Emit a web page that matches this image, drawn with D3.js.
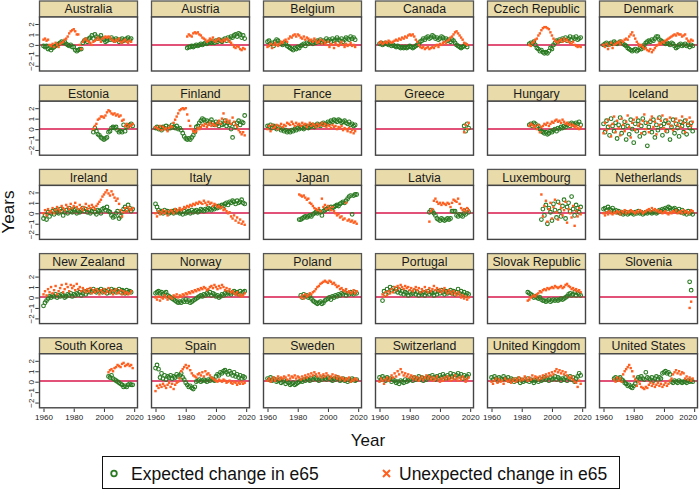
<!DOCTYPE html>
<html><head><meta charset="utf-8">
<script src="https://cdn.jsdelivr.net/npm/d3@7"></script>
<style>body{margin:0;background:#fff}svg{display:block}text{font-family:"Liberation Sans",Arial,sans-serif}</style>
</head><body><svg id="c" width="700" height="491"></svg>
<script>
const countries = ["Australia","Austria","Belgium","Canada","Czech Republic","Denmark",
"Estonia","Finland","France","Greece","Hungary","Iceland",
"Ireland","Italy","Japan","Latvia","Luxembourg","Netherlands",
"New Zealand","Norway","Poland","Portugal","Slovak Republic","Slovenia",
"South Korea","Spain","Sweden","Switzerland","United Kingdom","United States"];
const startYears = [1960,1981,1960,1960,1985,1960, 1993,1960,1960,2016,1985,1960, 1960,1960,1981,1993,1993,1960, 1960,1960,1982,1962,1984,2017, 2003,1960,1960,1960,1960,1967];
const expected = [
[-0.1,-0.2,-0.1,-0.4,-0.3,-0.5,-0.3,-0.2,-0.1,0.0,0.1,0.2,0.3,0.2,0.3,0.1,0.0,-0.1,0.0,-0.2,-0.2,-0.5,-0.6,-0.5,-0.4,-0.4,0.2,0.4,0.5,0.3,0.6,0.7,0.9,0.6,1.0,0.8,0.6,0.7,0.9,0.6,0.5,0.3,0.4,0.6,0.5,0.7,0.5,0.4,0.6,0.5,0.3,0.5,0.6,0.4,0.5,0.6,0.7,0.5,0.6],
[-0.3,-0.2,-0.2,-0.1,-0.2,-0.1,0.0,-0.1,0.0,0.1,0.0,0.1,0.2,0.1,0.2,0.3,0.2,0.3,0.2,0.4,0.3,0.5,0.4,0.3,0.5,0.6,0.4,0.7,0.6,0.8,0.7,0.9,1.0,0.8,1.1,1.0,0.7,0.9,0.6],
[0.3,0.4,0.1,0.2,-0.1,0.3,0.5,0.4,0.2,0.1,0.0,0.2,0.1,-0.1,-0.2,-0.3,-0.4,-0.5,-0.3,-0.4,-0.2,-0.3,-0.1,0.0,0.1,-0.1,0.2,0.1,0.3,0.2,0.1,0.3,0.2,0.4,0.3,0.5,0.2,0.4,0.3,0.6,0.4,0.5,0.3,0.6,0.4,0.5,0.7,0.5,0.4,0.6,0.3,0.5,0.7,0.6,0.5,0.8,0.6,0.7,0.5],
[0.1,0.2,0.0,0.1,0.2,0.1,0.0,0.1,-0.1,0.0,-0.1,-0.2,-0.1,-0.2,-0.3,-0.2,-0.3,-0.2,-0.3,-0.2,-0.1,-0.2,-0.3,-0.2,-0.1,0.0,0.1,0.3,0.4,0.6,0.5,0.7,0.8,0.6,0.7,0.9,0.8,0.6,0.7,0.5,0.6,0.8,0.7,0.5,0.6,0.4,0.5,0.3,0.5,0.4,0.2,0.0,-0.1,-0.2,-0.3,-0.2,-0.1,0.0,-0.2],
[0.1,0.2,0.1,0.3,0.0,-0.3,-0.4,-0.6,-0.5,-0.7,-0.8,-0.7,-0.8,-0.6,-0.3,-0.4,0.0,0.2,0.4,0.3,0.5,0.4,0.6,0.5,0.7,0.4,0.6,0.8,0.5,0.7,0.6,0.8,0.5,0.6,0.7],
[0.0,0.1,0.2,0.0,0.1,0.2,0.1,0.3,0.2,0.1,0.2,0.3,0.2,0.1,0.0,-0.1,-0.3,-0.4,-0.5,-0.6,-0.5,-0.4,-0.6,-0.5,-0.3,-0.4,-0.2,0.0,0.2,0.3,0.4,0.3,0.5,0.4,0.6,0.8,0.8,0.5,0.4,0.3,0.2,0.1,0.2,0.1,0.0,0.2,0.1,-0.1,-0.3,-0.2,0.0,0.1,-0.1,0.0,0.1,-0.1,0.0,-0.2,0.0,-0.1],
[-0.3,0.1,-0.2,-0.5,-0.6,-0.8,-0.9,-1.0,-0.9,-0.8,-0.3,-0.2,0.1,0.2,0.1,0.2,-0.1,-0.3,-0.2,-0.3,0.4,-0.2,0.2,0.3,0.4,0.5,0.3],
[0.1,0.2,0.0,0.1,-0.1,0.2,0.1,0.3,0.0,0.2,0.1,0.4,0.2,0.1,0.3,0.0,0.1,-0.1,-0.4,-0.7,-0.9,-1.0,-0.9,-1.0,-0.8,-0.6,-0.3,0.2,0.3,0.6,0.8,1.0,0.9,0.7,0.8,0.5,0.7,0.9,0.6,0.4,0.7,0.5,0.3,0.6,0.4,0.5,0.8,0.3,0.6,0.4,0.0,-0.8,0.5,0.2,0.6,0.8,0.4,0.7,0.6,1.3],
[0.3,0.2,0.4,0.1,0.3,0.2,0.0,0.2,0.1,-0.1,0.0,-0.2,-0.1,-0.3,-0.2,-0.3,-0.1,-0.2,0.0,-0.1,0.1,0.0,0.2,0.1,0.0,0.2,0.3,0.1,0.2,0.3,0.4,0.2,0.3,0.5,0.4,0.3,0.5,0.6,0.4,0.5,0.7,0.6,0.8,0.7,0.9,0.8,0.7,0.9,0.8,0.6,0.7,0.8,0.6,0.5,0.7,0.4,0.5,0.3,0.4],
[0.3,-0.2,0.5,0.1],
[0.4,0.5,0.3,0.6,0.5,0.2,0.3,0.0,-0.2,-0.3,-0.4,-0.3,-0.5,-0.4,-0.2,-0.3,-0.1,0.0,-0.2,0.1,0.0,0.2,0.1,0.3,0.2,0.4,0.5,0.3,0.6,0.5,0.4,0.6,0.5,0.7,0.4],
[0.5,-0.3,0.8,0.2,-0.6,1.0,0.3,-0.2,0.6,-0.9,0.4,1.1,-0.4,0.2,0.7,-1.0,0.3,-0.5,0.9,0.0,-1.3,0.5,-0.2,0.8,-0.7,0.3,1.0,-0.4,0.6,-1.6,0.2,0.7,-0.3,0.9,-0.8,0.4,-0.1,1.1,0.3,-0.6,0.5,0.8,-0.2,0.6,-1.0,0.2,0.9,-0.4,0.5,0.1,-0.7,0.7,0.3,-0.3,0.8,-0.5,0.4,0.1,0.6,-0.2],
[-0.5,-0.2,-0.6,0.1,-0.3,0.0,0.2,-0.1,0.3,0.1,0.0,0.4,0.2,-0.2,0.1,0.3,0.0,0.5,0.2,0.1,0.3,0.4,0.0,0.2,0.1,0.3,0.5,0.2,0.4,0.1,0.3,0.0,0.2,0.4,0.1,-0.1,0.3,0.2,0.0,0.4,0.5,0.3,0.6,0.2,0.1,-0.2,-0.4,-0.3,0.0,0.2,-0.5,-0.3,0.1,0.4,0.6,0.3,0.8,0.5,0.2,0.4],
[0.9,0.6,0.3,0.1,0.2,0.0,0.3,0.1,0.2,0.0,0.1,0.2,0.0,0.3,0.1,0.2,0.0,0.1,-0.1,0.2,0.0,0.1,0.2,0.0,0.3,0.1,0.2,0.3,0.1,0.2,0.4,0.3,0.2,0.4,0.3,0.5,0.4,0.3,0.5,0.4,0.6,0.5,0.7,0.6,0.8,0.7,0.9,1.0,0.8,1.1,1.0,1.2,1.1,0.9,1.2,1.0,1.1,1.3,1.0,0.9],
[-0.6,-0.6,-0.5,-0.4,-0.3,-0.4,-0.3,-0.2,-0.3,-0.1,0.0,0.1,0.0,0.2,0.1,-0.2,0.2,0.3,0.4,0.5,0.4,0.6,0.5,0.6,0.7,0.8,0.7,0.9,1.0,1.1,1.0,1.2,1.4,1.6,1.7,-0.1,1.7,1.8,1.8],
[0.1,0.3,0.2,0.0,-0.2,-0.5,-0.6,-0.7,-0.5,-0.6,-0.7,-0.6,-0.5,-0.6,-0.5,0.2,0.2,0.2,-0.2,-0.3,-0.1,-0.2,-0.3,0.0,-0.1,0.3,0.1],
[-0.6,0.4,-0.2,0.8,-1.0,0.5,0.1,-0.7,0.9,0.3,-0.4,1.1,0.2,-0.3,0.7,1.3,-0.5,0.6,1.0,0.2,1.6,0.4,-0.2,0.8,0.5,0.1,0.6],
[0.4,0.5,0.3,0.6,0.4,0.3,0.5,0.2,0.3,0.1,0.2,0.0,0.1,-0.1,0.0,0.1,-0.1,0.0,0.1,0.0,-0.1,0.1,0.0,0.2,0.0,0.1,-0.1,0.0,0.1,0.0,0.2,0.1,0.0,0.1,0.2,0.0,0.1,0.3,0.2,0.4,0.3,0.5,0.4,0.6,0.5,0.3,0.4,0.5,0.3,0.2,0.4,0.1,0.3,0.0,0.1,-0.1,0.2,0.0,0.1,-0.1],
[-0.8,-0.5,-0.3,-0.1,0.1,0.0,0.2,0.1,0.3,0.0,0.2,0.1,0.3,0.2,0.0,0.1,0.3,0.2,0.4,0.1,0.3,0.2,0.4,0.3,0.5,0.2,0.4,0.6,0.3,0.5,0.7,0.5,0.6,0.8,0.6,0.5,0.7,0.6,0.8,0.5,0.7,0.6,0.4,0.7,0.5,0.8,0.6,0.7,0.5,0.6,0.8,0.5,0.7,0.6,0.4,0.7,0.5,0.6,0.5],
[0.4,0.5,0.6,0.4,0.5,0.3,0.4,0.5,0.2,0.1,0.0,-0.1,-0.2,-0.3,-0.4,-0.5,-0.4,-0.5,-0.3,-0.4,-0.2,-0.4,-0.3,-0.5,-0.4,-0.3,-0.2,-0.1,0.0,0.1,0.2,0.1,0.3,0.2,0.4,0.3,0.5,0.2,0.4,0.3,0.1,0.2,0.0,0.1,0.3,0.2,0.4,0.3,0.5,0.4,0.3,0.5,0.6,0.4,0.5,0.3,0.6,0.4,0.5,0.6],
[0.2,0.0,0.3,0.1,0.2,0.0,0.1,-0.1,-0.3,-0.4,-0.5,-0.6,-0.5,-0.4,-0.6,-0.5,-0.3,-0.2,-0.1,0.0,-0.2,0.1,0.0,0.2,0.1,0.3,0.2,0.4,0.3,0.5,0.2,0.4,0.3,0.5,0.4,0.3,0.5,0.4],
[-0.3,0.6,0.3,0.8,0.5,1.0,0.7,0.9,0.6,0.8,0.5,0.7,0.4,0.6,0.3,0.5,0.4,0.2,0.5,0.3,0.4,0.6,0.3,0.5,0.2,0.4,0.3,0.5,0.2,0.4,0.6,0.3,0.5,0.4,0.2,0.5,0.3,0.6,0.4,0.7,0.5,0.3,0.6,0.4,0.5,0.7,0.4,0.6,0.3,0.5,0.8,0.4,0.6,0.3,0.5,0.2,0.4,0.3],
[0.5,0.4,0.3,0.2,0.0,0.1,0.0,-0.1,0.0,-0.2,-0.3,-0.3,-0.4,-0.3,-0.2,-0.4,-0.3,-0.2,-0.3,-0.2,-0.3,-0.2,-0.1,-0.2,-0.1,0.0,0.1,0.3,0.4,0.2,0.3,0.5,0.2,0.4,0.3,0.2],
[1.5,0.7],
[0.5,0.4,0.6,0.3,0.2,0.1,0.0,-0.1,-0.2,-0.3,-0.5,-0.4,-0.5,-0.3,-0.2,-0.3,-0.3],
[1.3,1.6,1.2,0.4,0.8,0.3,0.6,0.2,0.5,0.4,0.6,0.3,0.5,0.4,0.7,0.5,0.6,0.8,0.4,0.2,-0.1,-0.3,-0.5,-0.4,-0.6,-0.7,-0.5,0.0,0.1,0.2,0.0,0.1,0.2,0.1,0.0,0.2,0.1,0.3,0.2,0.1,0.5,0.7,0.6,0.9,0.8,1.0,1.1,0.9,0.7,1.0,0.8,0.6,0.9,0.5,0.7,0.4,0.6,0.3,0.5,0.4],
[0.3,0.2,0.4,0.1,0.3,0.2,0.0,0.1,0.2,-0.1,0.0,0.1,-0.2,0.0,-0.1,-0.3,-0.2,-0.1,-0.3,-0.2,-0.1,0.0,0.1,0.0,0.2,0.1,0.3,0.2,0.1,0.3,0.2,0.4,0.3,0.2,0.1,0.3,0.2,0.4,0.3,0.2,0.4,0.3,0.2,0.1,0.3,0.2,0.4,0.3,0.1,0.2,0.3,0.1,0.2,0.0,0.2,0.1,0.3,0.2,0.1,0.2],
[0.4,0.2,0.5,0.3,0.1,0.4,0.2,0.3,0.0,0.2,0.1,-0.1,0.0,-0.2,0.1,0.0,-0.1,0.2,0.0,0.1,0.2,0.3,0.1,0.4,0.2,0.3,0.5,0.2,0.4,0.1,0.3,0.2,0.4,0.5,0.3,0.6,0.4,0.2,0.5,0.3,0.6,0.4,0.7,0.5,0.3,0.6,0.4,0.8,0.5,0.7,0.4,0.6,0.8,0.5,0.7,0.3,0.6,0.4,0.5,0.7],
[0.4,0.2,0.5,0.3,0.1,0.4,0.3,0.2,0.5,0.3,0.2,0.4,0.1,0.3,0.2,0.0,0.2,0.1,0.3,-0.1,0.1,0.0,0.2,0.1,0.3,0.0,0.2,0.1,-0.1,0.1,0.2,0.0,0.3,0.1,0.2,0.4,0.2,0.3,0.1,0.4,0.2,0.3,0.5,0.2,0.4,0.3,0.1,0.3,0.2,0.4,0.1,0.3,0.5,0.2,0.4,0.0,0.3,0.5,0.8,0.6],
[0.3,0.4,0.2,0.3,0.4,0.2,0.1,-0.1,-0.2,-0.4,-0.3,-0.5,-0.6,-0.4,-0.2,0.2,0.4,0.3,0.5,0.3,0.2,0.9,0.4,0.3,0.2,0.4,0.1,0.3,0.5,0.2,0.4,0.3,0.8,0.9,1.0,0.8,0.9,0.7,0.0,-0.1,0.1,0.0,-0.1,0.1,0.0,-0.1,0.0,0.0,-0.1,0.1,0.0,0.1,0.0]
];
const unexpected = [
[0.5,0.6,0.4,0.5,0.0,-0.1,0.1,-0.2,0.2,0.0,-0.2,0.1,0.2,0.3,0.5,0.6,0.8,1.1,1.3,1.4,1.5,1.3,1.0,1.0,0.0,-0.4,0.3,0.5,0.6,0.4,0.3,0.2,0.0,0.3,0.4,0.5,0.7,0.5,0.3,0.6,0.7,0.8,0.7,0.8,0.7,0.5,0.4,0.3,0.5,0.4,0.6,0.3,0.2,0.4,0.5,0.3,0.2,0.4,0.3],
[0.8,1.0,0.9,0.8,1.1,1.2,1.1,1.2,1.0,0.9,0.7,0.6,0.5,0.3,0.4,0.6,0.5,0.7,0.4,0.3,0.5,0.6,0.4,0.3,0.5,0.4,0.6,0.5,0.3,0.2,0.0,-0.2,-0.3,-0.1,-0.2,-0.4,-0.5,-0.3,-0.4],
[-0.2,-0.1,0.1,-0.3,0.0,0.2,0.0,-0.1,0.1,0.3,0.2,0.4,0.5,0.3,0.6,0.8,0.7,0.9,1.0,0.8,1.0,0.9,0.7,0.6,0.8,0.5,0.7,0.6,0.4,0.5,0.3,0.6,0.4,0.2,0.3,0.5,0.1,0.4,0.2,0.0,0.3,-0.2,0.1,0.0,-0.3,0.2,0.0,-0.1,0.1,0.3,0.0,-0.2,0.1,-0.1,0.0,0.2,-0.1,0.0,-0.2],
[0.2,0.3,0.1,0.2,0.3,0.2,0.4,0.3,0.2,0.3,0.4,0.5,0.4,0.6,0.5,0.7,0.6,0.8,0.7,0.9,1.0,0.9,1.0,0.8,0.5,0.3,0.0,-0.2,-0.3,-0.2,-0.4,-0.3,-0.2,-0.4,-0.3,-0.2,-0.3,-0.1,0.0,-0.2,0.1,0.0,0.2,0.3,0.1,0.4,0.5,0.7,0.8,1.0,1.2,1.3,1.1,0.9,0.7,0.5,0.2,0.1,0.0],
[0.0,-0.1,0.2,0.3,0.5,0.6,0.9,1.1,1.4,1.6,1.7,1.7,1.6,1.5,1.2,0.9,0.6,0.4,0.3,0.2,0.4,0.5,0.3,0.6,0.4,0.5,0.3,0.2,0.1,0.3,0.0,-0.1,-0.2,-0.1,-0.2],
[0.0,-0.2,0.1,-0.4,-0.1,0.2,-0.3,0.0,0.1,0.2,0.3,0.1,0.4,0.3,0.5,0.6,0.5,0.8,1.0,1.2,0.9,0.6,0.3,0.1,-0.1,0.0,-0.2,-0.4,-0.3,-0.5,-0.6,-0.4,-0.7,-0.5,-0.3,-0.1,0.0,0.2,0.1,0.3,0.2,0.4,0.5,0.6,0.7,0.8,0.9,1.0,0.9,1.1,1.0,1.0,0.8,0.9,1.0,0.6,0.4,0.3,0.5,0.4],
[0.0,0.3,0.5,0.9,1.0,1.2,1.2,1.1,1.3,1.6,1.8,1.7,1.5,1.4,1.5,1.3,1.4,1.2,1.3,0.8,0.9,0.3,0.5,0.2,0.4,0.3,0.5],
[0.2,0.1,0.0,0.3,-0.1,0.2,0.0,0.1,-0.2,0.1,0.3,0.2,0.6,0.9,1.2,1.5,1.8,1.9,2.0,1.9,2.0,1.4,0.8,0.3,0.0,-0.2,-0.3,-0.2,0.1,0.0,0.2,0.4,0.3,0.5,0.2,0.4,0.6,0.3,0.5,0.4,0.3,0.6,0.8,0.5,1.0,1.5,0.7,0.9,0.6,0.8,0.5,1.1,0.7,0.4,0.2,-0.1,-0.3,-0.5,-0.3,-0.6],
[0.0,0.3,-0.2,0.4,0.1,0.2,0.4,0.0,0.3,0.5,0.2,0.4,0.3,0.6,0.5,0.4,0.7,0.5,0.3,0.6,0.4,0.5,0.3,0.6,0.4,0.5,0.2,0.4,0.6,0.3,0.5,0.4,0.2,0.5,0.3,0.4,0.6,0.3,0.5,0.2,0.4,0.3,0.1,0.4,0.2,0.3,0.0,0.2,0.1,0.3,-0.1,0.1,0.0,-0.2,0.1,-0.3,-0.1,-0.4,-0.2],
[-0.3,0.4,0.0,0.6],
[0.3,0.5,0.4,0.2,0.3,0.0,0.4,-0.3,0.2,0.3,0.5,0.4,0.6,0.3,0.5,0.7,0.6,0.8,0.9,0.7,0.8,0.6,0.9,0.7,0.5,0.6,0.4,0.5,0.3,0.4,0.2,0.3,0.1,0.0,0.2],
[-0.4,0.6,-0.1,0.9,0.3,-0.7,0.5,1.2,-0.3,0.8,0.1,-0.6,1.0,0.4,-0.2,0.7,1.3,0.2,-0.8,0.6,0.9,-0.1,1.1,0.3,0.5,-0.4,0.8,1.4,0.0,0.6,-0.3,0.9,1.2,0.2,0.7,-0.5,1.0,0.4,0.8,1.3,0.1,-0.2,0.9,0.5,1.1,0.3,-0.1,0.7,1.0,0.4,0.8,0.2,1.2,0.6,-0.3,0.9,0.5,1.1,0.3,0.7],
[0.0,0.3,-0.2,0.4,0.1,0.2,0.5,0.0,0.3,0.6,0.4,0.2,0.7,0.5,0.3,0.8,0.6,0.4,0.9,0.5,0.7,1.0,0.6,0.4,0.8,0.5,0.3,0.6,0.9,0.4,0.7,0.5,0.8,0.6,0.4,0.7,0.9,1.1,1.3,1.6,1.8,2.0,2.2,1.9,1.7,2.1,1.8,1.5,1.2,1.4,0.9,0.3,-0.3,0.1,0.5,0.2,0.6,0.4,0.3,0.5],
[0.0,-0.3,0.2,-0.1,0.1,0.3,0.0,0.2,-0.2,0.1,0.3,0.2,0.0,0.4,0.2,0.3,0.5,0.3,0.4,0.6,0.5,0.7,0.6,0.8,0.7,0.9,0.8,1.0,0.9,1.1,1.0,0.9,1.2,1.0,0.8,1.1,0.9,1.0,0.7,0.9,0.8,0.6,0.7,0.5,0.6,0.3,0.4,0.2,0.0,0.1,-0.3,-0.5,-0.2,-0.7,-0.4,-0.9,-0.6,-1.0,-0.8,-1.1],
[1.8,1.7,1.6,1.7,1.5,1.3,1.4,1.0,0.9,0.7,0.5,0.4,0.3,0.5,0.2,1.4,0.6,0.8,0.4,0.7,0.5,0.3,0.6,0.2,0.0,-0.2,-0.1,-0.4,-0.3,-0.6,-0.5,1.0,-0.7,-0.6,-0.8,-0.7,-0.9,-0.8,-1.0],
[-0.8,0.2,0.4,1.2,1.4,1.1,0.9,1.0,0.8,1.0,0.9,0.8,1.0,0.9,0.6,1.0,1.3,1.2,1.1,1.4,0.9,0.5,0.3,0.4,0.2,0.5,0.3],
[1.8,-0.3,0.7,1.2,-0.8,0.4,1.0,-0.5,0.6,1.3,0.1,-0.6,0.9,0.5,-0.2,0.3,1.1,-0.9,0.4,0.0,-0.4,0.7,-1.2,0.2,-0.3,0.5,-0.1],
[0.0,-0.2,0.1,-0.1,0.2,0.0,-0.1,0.1,0.0,0.2,0.1,-0.1,0.2,0.1,0.3,0.0,0.2,0.1,0.3,0.2,0.1,0.0,0.2,0.1,0.3,0.2,0.0,0.1,0.2,0.3,0.4,0.2,0.5,0.3,0.4,0.2,0.3,0.1,0.2,0.0,0.1,0.2,0.0,-0.1,0.1,0.0,0.2,0.1,0.3,0.0,0.1,0.2,0.0,0.3,0.1,0.2,0.0,0.1,0.3,0.2],
[0.3,0.6,0.2,0.8,0.5,1.0,0.4,0.7,1.1,0.3,0.6,0.9,1.2,0.5,0.8,1.3,1.0,0.6,1.2,0.9,1.1,0.7,1.3,0.8,1.0,0.6,0.9,0.7,0.5,0.8,0.6,0.9,0.4,0.7,0.5,0.8,0.6,0.3,0.7,0.5,0.8,0.4,0.6,0.9,0.5,0.7,0.3,0.6,0.8,0.4,0.5,0.7,0.3,0.6,0.4,0.5,0.3,0.4,0.6],
[0.0,-0.2,0.1,-0.3,0.0,-0.1,0.2,0.0,-0.2,0.1,0.0,-0.1,0.2,0.1,0.3,0.0,0.2,0.1,0.3,0.2,0.4,0.3,0.5,0.4,0.6,0.5,0.7,0.6,0.8,0.7,0.9,0.8,1.0,0.9,0.7,0.8,1.0,1.1,0.9,1.2,1.0,0.8,1.1,0.9,1.2,1.0,0.7,0.9,0.6,0.8,0.5,0.6,0.4,0.3,0.5,0.2,0.3,0.1,0.2,0.4],
[0.0,0.2,-0.1,0.3,0.1,0.2,0.4,0.3,0.5,0.6,0.8,1.0,1.1,1.3,1.4,1.5,1.6,1.5,1.4,1.6,1.5,1.3,1.4,1.2,1.0,1.1,0.8,0.9,0.7,0.6,0.8,0.5,0.6,0.4,0.5,0.7,0.4,0.6],
[0.3,0.1,0.5,0.2,0.6,0.4,0.8,0.5,1.0,0.7,1.1,0.9,1.2,1.0,0.8,1.1,0.9,1.0,0.7,0.9,0.6,0.8,1.0,0.7,0.9,0.5,0.8,0.6,1.0,0.7,0.5,0.9,0.6,0.8,1.1,0.7,0.9,0.6,0.8,0.5,0.7,0.9,0.6,0.4,0.7,0.5,0.3,0.6,0.4,0.2,0.5,0.3,0.0,0.2,-0.1,0.1,-0.2,0.0],
[-0.3,-0.2,0.0,0.1,0.2,0.1,0.3,0.4,0.6,0.5,0.7,0.8,0.7,0.9,0.8,0.9,1.0,0.9,1.1,1.0,0.9,1.0,1.1,0.9,1.0,1.2,1.3,1.1,1.0,0.8,0.9,0.7,0.8,0.6,0.7,0.5],
[-1.0,-0.4],
[0.9,1.1,1.2,1.0,1.3,1.4,1.6,1.5,1.4,1.7,1.8,1.5,1.6,1.7,1.5,1.6,1.3],
[-0.9,-0.4,-0.6,-0.3,-0.5,-0.2,-0.4,-0.6,-0.3,-0.1,-0.5,-0.2,-0.7,-0.3,-0.1,0.0,0.3,1.0,1.2,1.4,1.6,1.3,1.5,1.1,0.8,0.6,0.5,0.4,0.7,0.8,0.6,0.9,0.5,1.0,0.7,0.8,0.6,0.4,0.3,0.2,0.1,0.0,0.2,0.1,0.0,0.2,0.1,-0.1,0.0,0.1,-0.1,-0.2,0.0,-0.1,-0.3,-0.1,-0.2,0.0,-0.2,-0.1],
[0.1,0.3,0.0,0.2,0.4,0.1,0.3,0.5,0.2,0.4,0.3,0.5,0.4,0.2,0.6,0.3,0.5,0.4,0.6,0.3,0.5,0.4,0.2,0.5,0.3,0.6,0.4,0.7,0.5,0.8,0.6,0.9,0.7,0.5,0.8,0.6,0.4,0.7,0.5,0.8,0.6,0.3,0.5,0.7,0.4,0.6,0.3,0.5,0.2,0.4,0.3,0.1,0.3,0.2,0.4,0.0,0.2,0.1,0.3,0.2],
[0.0,0.3,0.1,-0.2,0.2,0.4,0.1,0.3,0.6,0.4,0.8,0.5,1.0,0.7,1.2,0.9,0.6,0.8,0.5,0.7,0.4,0.6,0.3,0.5,0.2,0.4,0.1,0.3,0.5,0.2,0.4,0.6,0.3,0.5,0.2,0.4,0.1,0.3,0.5,0.2,0.0,0.3,0.1,0.4,0.2,0.5,0.3,0.1,0.4,0.2,0.6,0.3,0.1,0.4,0.2,0.5,0.3,0.0,0.2,0.4],
[0.0,-0.2,0.1,0.3,-0.1,0.2,0.0,0.1,-0.2,0.3,0.1,0.0,0.2,-0.1,0.1,0.3,0.0,0.2,0.4,0.1,0.3,0.2,0.5,0.3,0.1,0.4,0.2,0.6,0.3,0.5,0.4,0.2,0.5,0.3,0.6,0.4,0.7,0.5,0.8,0.6,0.9,0.7,1.0,1.2,0.9,1.1,0.8,1.0,0.7,0.9,0.6,0.4,0.3,0.5,0.2,0.0,-0.1,-0.5,0.1,-0.2],
[0.2,0.0,0.4,0.1,0.3,0.0,0.7,1.0,1.2,1.4,1.6,1.3,1.0,0.5,0.2,-0.4,0.0,-0.2,-0.5,-0.6,-0.7,-0.5,-0.6,-0.3,-0.1,-0.4,-0.2,-0.5,-0.3,-0.1,-0.4,-0.2,-0.5,-0.3,-0.1,-0.4,-0.2,0.1,0.3,0.7,0.9,1.1,0.8,1.0,0.7,0.9,0.8,0.3,0.5,0.2,0.4,0.1,0.3]
];
const yTicks = [-2,-1,0,1,2];
const xTicks = [1960,1980,2000,2020];
const legendLabels = ["Expected change in e65","Unexpected change in e65"];

const svg = d3.select("#c");
svg.append("rect").attr("width",700).attr("height",491).attr("fill","#fff");
const ncol = 6, pw = 98, ph = 54, sh = 16;
const colL = c => 39.5 + 112*c;
const rowT = r => 1 + 84.2*r;
const GREEN = "#2a7a22", ORANGE = "#ff5f1f", ZERO = "#d8174a";

countries.forEach((name, i) => {
  const c = i % ncol, r = Math.floor(i / ncol);
  const L = colL(c), T = rowT(r), PT = T + sh;
  const x = d3.scaleLinear().domain([1957.35, 2022.2]).range([L, L + pw]);
  const y = d3.scaleLinear().domain([-2.5, 2.67]).range([PT + ph, PT]);
  const g = svg.append("g");
  g.append("rect").attr("x", L).attr("y", T).attr("width", pw).attr("height", sh)
    .attr("fill", "#e9dcaa").attr("stroke", "#555").attr("stroke-width", 1.3);
  g.append("text").attr("x", L + pw/2).attr("y", T + sh/2 + 4.3).attr("text-anchor","middle")
    .attr("font-size", 12.3).attr("fill","#1a1a1a").text(name);
  g.append("rect").attr("x", L).attr("y", PT).attr("width", pw).attr("height", ph)
    .attr("fill", "#fff");
  let zy = Math.round(y(0)); if (zy % 2 === 0) zy += (y(0) > zy ? 1 : -1);
  g.append("line").attr("x1", L).attr("x2", L + pw).attr("y1", zy).attr("y2", zy)
    .attr("stroke", ZERO).attr("stroke-width", 1.5);
  const y0 = startYears[i];
  const ex = expected[i].map((v, k) => ({yr: y0 + k, v}));
  const un = unexpected[i].map((v, k) => ({yr: y0 + k, v}));
  g.selectAll("circle.e").data(ex).join("circle").attr("class","e")
    .attr("cx", d => x(d.yr)).attr("cy", d => y(d.v)).attr("r", 1.85)
    .attr("fill", "none").attr("stroke", GREEN).attr("stroke-width", 1.1);
  g.selectAll("rect.u").data(un).join("rect").attr("class","u")
    .attr("x", d => x(d.yr) - 1.2).attr("y", d => y(d.v) - 1.2)
    .attr("width", 2.4).attr("height", 2.4).attr("fill", ORANGE);
  g.append("rect").attr("x", L).attr("y", PT).attr("width", pw).attr("height", ph)
    .attr("fill", "none").attr("stroke", "#444").attr("stroke-width", 1.4);
  if (c === 0) {
    const ax = g.append("g").attr("transform", `translate(${L - 0.7},0)`)
      .call(d3.axisLeft(y).tickValues(yTicks).tickSize(3.5).tickFormat(d3.format("d")));
    ax.select(".domain").remove();
    ax.selectAll("line").attr("stroke", "#333");
    ax.selectAll("text").attr("font-size", 8).attr("fill", "#222")
      .attr("x", 0).attr("y", 0).attr("dy", 0)
      .attr("transform", "translate(-5.2,0) rotate(-90)").attr("text-anchor","middle");
  }
  if (r === 4) {
    const ax = g.append("g").attr("transform", `translate(0,${PT + ph + 0.7})`)
      .call(d3.axisBottom(x).tickValues(xTicks).tickSize(3.5).tickFormat(d3.format("d")));
    ax.select(".domain").remove();
    ax.selectAll("line").attr("stroke", "#333");
    ax.selectAll("text").attr("font-size", 8).attr("fill", "#222").attr("dy", "0.71em").attr("y", 5.5)
      .attr("x", d => (c === ncol - 1 && d === 2020) ? -6.5 : 0);
  }
});

svg.append("text").attr("transform","translate(13.5,212) rotate(-90)").attr("text-anchor","middle")
  .attr("font-size", 17).attr("fill","#111").text("Years");
svg.append("text").attr("x", 368).attr("y", 446).attr("text-anchor","middle")
  .attr("font-size", 17).attr("fill","#111").text("Year");

const lg = svg.append("g");
lg.append("rect").attr("x", 102.5).attr("y", 456.5).attr("width", 517).attr("height", 32)
  .attr("fill", "#fff").attr("stroke", "#111").attr("stroke-width", 1);
lg.append("circle").attr("cx", 114).attr("cy", 473.5).attr("r", 2.8).attr("fill","none")
  .attr("stroke", GREEN).attr("stroke-width", 1.8);
lg.append("text").attr("x", 131).attr("y", 479.5).attr("font-size", 17.5).attr("fill","#111").text(legendLabels[0]);
lg.append("path").attr("d", "M383,470 L390,477 M390,470 L383,477").attr("stroke", ORANGE).attr("stroke-width", 2);
lg.append("text").attr("x", 399).attr("y", 479.5).attr("font-size", 17.5).attr("fill","#111").text(legendLabels[1]);
</script></body></html>
